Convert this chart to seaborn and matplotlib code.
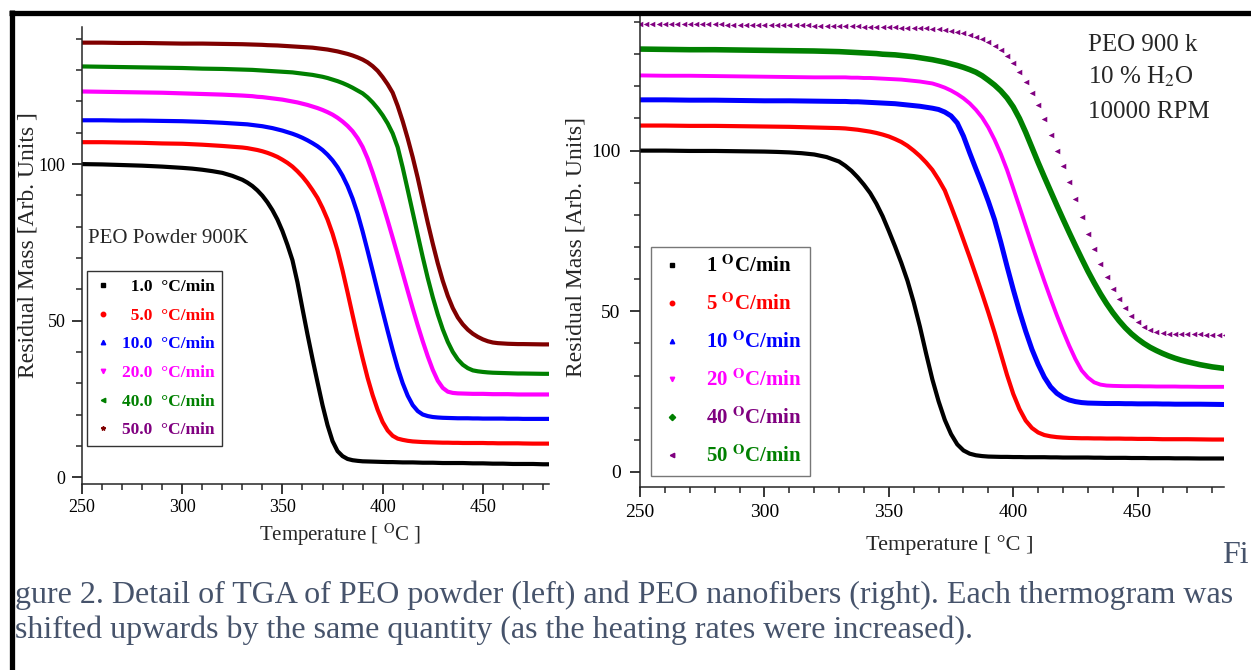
import matplotlib
matplotlib.use("Agg")
import matplotlib.pyplot as plt
from matplotlib.lines import Line2D
from matplotlib.ticker import MultipleLocator
import seaborn as sns

# ---------------------------------------------------------------- data
# temperature grid (°C) for the solid curves
temps = [250, 260, 270, 280, 290, 300, 305, 310, 315, 320, 325,
         330, 332.5, 335, 337.5, 340, 342.5, 345, 347.5,
         350, 352.5, 355, 357.5, 360, 362.5, 365, 367.5,
         370, 372.5, 375, 377.5, 380, 382.5, 385, 387.5,
         390, 392.5, 395, 397.5, 400, 402.5, 405, 407.5,
         410, 412.5, 415, 417.5, 420, 422.5, 425, 427.5,
         430, 432.5, 435, 437.5, 440, 442.5, 445, 447.5,
         450, 452.5, 455, 457.5, 460, 462.5, 465, 467.5,
         470, 475, 480, 485]

# PEO powder 900K, residual mass (each rate shifted upwards)
powder_1 = [100.0, 99.9, 99.7, 99.5, 99.2, 98.8, 98.55, 98.2, 97.75, 97.2, 96.25,
            95.0, 94.1, 93.0, 91.6, 89.9, 87.8, 85.3, 82.3,
            78.6, 74.2, 69.3, 62.2, 53.8, 45.6, 37.8, 30.3,
            23.0, 16.6, 11.5, 8.3, 6.7, 5.8, 5.4, 5.2,
            5.05, 5.0, 4.95, 4.9, 4.85, 4.8, 4.8, 4.75,
            4.7, 4.7, 4.7, 4.65, 4.6, 4.6, 4.6, 4.55,
            4.5, 4.5, 4.5, 4.5, 4.5, 4.45, 4.4, 4.4,
            4.4, 4.35, 4.3, 4.3, 4.3, 4.25, 4.2, 4.2,
            4.2, 4.2, 4.1, 4.1]
powder_5 = [107.0, 107.0, 106.9, 106.8, 106.6, 106.5, 106.35, 106.2, 106.0, 105.8, 105.55,
            105.3, 105.1, 104.8, 104.5, 104.1, 103.6, 103.0, 102.3,
            101.4, 100.4, 99.2, 97.7, 96.0, 94.0, 91.7, 89.2,
            86.0, 82.3, 77.8, 72.4, 66.0, 59.0, 51.8, 44.7,
            38.0, 31.7, 26.2, 21.5, 17.6, 14.9, 13.2, 12.3,
            11.9, 11.6, 11.4, 11.3, 11.2, 11.15, 11.1, 11.05,
            11.0, 11.0, 10.95, 10.95, 10.9, 10.9, 10.9, 10.9,
            10.9, 10.85, 10.85, 10.8, 10.8, 10.8, 10.8, 10.8,
            10.75, 10.7, 10.7, 10.7]
powder_10 = [114.0, 114.0, 113.9, 113.9, 113.8, 113.7, 113.6, 113.5, 113.35, 113.2, 113.0,
             112.8, 112.7, 112.5, 112.3, 112.1, 111.8, 111.5, 111.1,
             110.7, 110.2, 109.7, 109.1, 108.4, 107.6, 106.7, 105.7,
             104.5, 103.0, 101.2, 99.0, 96.3, 93.0, 89.0, 84.2,
             78.5, 72.3, 65.9, 59.4, 53.0, 46.7, 40.6, 34.9,
             30.0, 26.0, 23.0, 21.1, 20.0, 19.5, 19.2, 19.05,
             18.95, 18.9, 18.85, 18.8, 18.8, 18.8, 18.75, 18.75,
             18.7, 18.7, 18.7, 18.7, 18.7, 18.65, 18.65, 18.65,
             18.6, 18.6, 18.6, 18.6]
powder_20 = [123.2, 123.1, 123.0, 122.9, 122.8, 122.6, 122.5, 122.4, 122.3, 122.2, 122.05,
             121.9, 121.8, 121.7, 121.5, 121.4, 121.2, 121.0, 120.8,
             120.6, 120.3, 120.0, 119.7, 119.3, 118.9, 118.4, 117.9,
             117.3, 116.6, 115.8, 114.8, 113.6, 112.2, 110.5, 108.3,
             105.5, 101.8, 97.3, 92.4, 87.3, 82.0, 76.5, 70.9,
             65.2, 59.5, 53.9, 48.5, 43.4, 38.6, 34.3, 30.8,
             28.5, 27.3, 26.9, 26.75, 26.7, 26.65, 26.6, 26.6,
             26.6, 26.55, 26.5, 26.5, 26.5, 26.5, 26.45, 26.4,
             26.4, 26.4, 26.4, 26.4]
powder_40 = [131.2, 131.1, 131.0, 130.9, 130.8, 130.7, 130.6, 130.5, 130.45, 130.4, 130.3,
             130.2, 130.15, 130.1, 130.0, 129.9, 129.8, 129.7, 129.6,
             129.5, 129.4, 129.3, 129.1, 128.9, 128.7, 128.5, 128.2,
             127.9, 127.5, 127.0, 126.5, 125.9, 125.2, 124.4, 123.5,
             122.6, 121.3, 119.7, 117.8, 115.6, 113.0, 109.8, 105.4,
             98.9, 91.8, 84.6, 77.4, 70.3, 63.6, 57.5, 52.0,
             47.2, 43.2, 40.0, 37.6, 35.9, 34.8, 34.1, 33.8,
             33.6, 33.45, 33.35, 33.3, 33.25, 33.2, 33.15, 33.1,
             33.1, 33.05, 33.0, 33.0]
powder_50 = [138.8, 138.8, 138.7, 138.7, 138.6, 138.5, 138.5, 138.5, 138.45, 138.4, 138.35,
             138.3, 138.25, 138.2, 138.15, 138.1, 138.0, 137.95, 137.9,
             137.8, 137.7, 137.6, 137.5, 137.4, 137.3, 137.2, 137.0,
             136.8, 136.6, 136.3, 136.0, 135.6, 135.2, 134.7, 134.1,
             133.4, 132.5, 131.3, 129.8, 127.8, 125.5, 122.8, 118.6,
             113.7, 108.2, 102.2, 95.6, 88.4, 81.3, 74.6, 68.3,
             62.7, 57.9, 54.0, 51.0, 48.8, 47.1, 45.8, 44.8,
             44.0, 43.4, 43.0, 42.8, 42.7, 42.6, 42.55, 42.5,
             42.5, 42.45, 42.4, 42.4]

# PEO nanofibers (900 k, 10 % H2O, 10000 RPM)
fiber_1 = [100.0, 100.0, 99.9, 99.9, 99.8, 99.7, 99.6, 99.45, 99.2, 98.8, 98.0,
           96.6, 95.3, 93.7, 91.7, 89.4, 86.8, 83.5, 79.6,
           75.0, 70.2, 65.1, 59.5, 52.8, 45.2, 36.8, 28.8,
           22.0, 16.2, 11.8, 8.6, 6.7, 5.7, 5.2, 4.95,
           4.8, 4.75, 4.7, 4.7, 4.65, 4.65, 4.6, 4.6,
           4.6, 4.6, 4.55, 4.55, 4.5, 4.5, 4.5, 4.5,
           4.5, 4.45, 4.45, 4.4, 4.4, 4.4, 4.4, 4.35,
           4.35, 4.35, 4.3, 4.3, 4.3, 4.3, 4.25, 4.25,
           4.25, 4.2, 4.2, 4.2]
fiber_5 = [107.8, 107.8, 107.7, 107.7, 107.6, 107.5, 107.45, 107.4, 107.3, 107.2, 107.1,
           107.0, 106.9, 106.7, 106.5, 106.2, 105.9, 105.5, 105.0,
           104.4, 103.6, 102.7, 101.5, 100.0, 98.3, 96.3, 94.0,
           91.0, 87.6, 82.7, 77.6, 72.2, 66.8, 61.2, 55.5,
           49.6, 43.4, 36.8, 30.2, 24.3, 19.6, 16.0, 13.7,
           12.3, 11.5, 11.1, 10.85, 10.7, 10.6, 10.55, 10.5,
           10.5, 10.45, 10.45, 10.4, 10.4, 10.4, 10.35, 10.35,
           10.3, 10.3, 10.3, 10.25, 10.2, 10.2, 10.2, 10.2,
           10.2, 10.15, 10.1, 10.1]
fiber_10 = [115.8, 115.8, 115.7, 115.7, 115.6, 115.5, 115.5, 115.5, 115.45, 115.4, 115.35,
            115.3, 115.3, 115.2, 115.2, 115.1, 115.0, 114.9, 114.8,
            114.7, 114.6, 114.4, 114.2, 114.0, 113.8, 113.5, 113.2,
            112.8, 112.0, 110.8, 108.6, 104.5, 99.3, 94.3, 89.4,
            84.2, 78.5, 71.5, 64.0, 56.8, 50.0, 43.8, 38.2,
            33.5, 29.5, 26.5, 24.5, 23.2, 22.4, 21.9, 21.6,
            21.45, 21.4, 21.35, 21.3, 21.3, 21.3, 21.25, 21.25,
            21.2, 21.2, 21.2, 21.2, 21.15, 21.15, 21.1, 21.1,
            21.1, 21.1, 21.05, 21.0]
fiber_20 = [123.4, 123.3, 123.3, 123.2, 123.1, 123.0, 122.95, 122.9, 122.85, 122.8, 122.8,
            122.8, 122.8, 122.7, 122.7, 122.6, 122.6, 122.5, 122.4,
            122.3, 122.2, 122.1, 121.9, 121.7, 121.5, 121.2, 120.9,
            120.3, 119.6, 118.7, 117.6, 116.3, 114.7, 112.7, 110.3,
            107.2, 103.4, 99.0, 94.0, 88.3, 82.5, 76.6, 70.7,
            65.0, 59.4, 54.0, 48.8, 43.9, 39.3, 35.1, 31.6,
            29.4, 27.9, 27.2, 26.9, 26.8, 26.75, 26.7, 26.7,
            26.7, 26.65, 26.65, 26.6, 26.6, 26.6, 26.6, 26.55,
            26.55, 26.5, 26.5, 26.5]
fiber_40 = [131.6, 131.5, 131.4, 131.4, 131.3, 131.2, 131.15, 131.1, 131.05, 131.0, 130.9,
            130.8, 130.7, 130.6, 130.5, 130.4, 130.3, 130.2, 130.0,
            129.9, 129.8, 129.6, 129.4, 129.2, 128.9, 128.6, 128.3,
            127.9, 127.5, 127.0, 126.5, 125.9, 125.2, 124.4, 123.3,
            121.9, 120.4, 118.6, 116.4, 113.6, 110.0, 105.7, 101.0,
            96.3, 91.8, 87.4, 83.0, 78.7, 74.5, 70.4, 66.4,
            62.5, 58.9, 55.5, 52.4, 49.6, 47.1, 44.9, 43.0,
            41.4, 40.0, 38.8, 37.8, 36.9, 36.1, 35.4, 34.8,
            34.3, 33.4, 32.7, 32.2]

# 50 °C/min nanofiber run, plotted as individual points
temps_pts = [250.0, 252.5, 255.0, 257.5, 260.0, 262.5, 265.0, 267.5, 270.0, 272.5,
             275.0, 277.5, 280.0, 282.5, 285.0, 287.5, 290.0, 292.5, 295.0, 297.5,
             300.0, 302.5, 305.0, 307.5, 310.0, 312.5, 315.0, 317.5, 320.0, 322.5,
             325.0, 327.5, 330.0, 332.5, 335.0, 337.5, 340.0, 342.5, 345.0, 347.5,
             350.0, 352.5, 355.0, 357.5, 360.0, 362.5, 365.0, 367.5, 370.0, 372.5,
             375.0, 377.5, 380.0, 382.5, 385.0, 387.5, 390.0, 392.5, 395.0, 397.5,
             400.0, 402.5, 405.0, 407.5, 410.0, 412.5, 415.0, 417.5, 420.0, 422.5,
             425.0, 427.5, 430.0, 432.5, 435.0, 437.5, 440.0, 442.5, 445.0, 447.5,
             450.0, 452.5, 455.0, 457.5, 460.0, 462.5, 465.0, 467.5, 470.0, 472.5,
             475.0, 477.5, 480.0, 482.5, 485.0]
fiber_50 = [139.4, 139.4, 139.4, 139.4, 139.4, 139.4, 139.4, 139.3, 139.3, 139.3,
            139.3, 139.3, 139.3, 139.3, 139.2, 139.2, 139.2, 139.2, 139.2, 139.2,
            139.1, 139.1, 139.1, 139.1, 139.0, 139.0, 139.0, 139.0, 138.9, 138.9,
            138.9, 138.8, 138.8, 138.8, 138.7, 138.7, 138.6, 138.6, 138.5, 138.5,
            138.4, 138.4, 138.3, 138.2, 138.2, 138.1, 138.0, 137.9, 137.7, 137.5,
            137.2, 136.9, 136.5, 136.0, 135.4, 134.6, 133.7, 132.6, 131.3, 129.4,
            127.2, 124.6, 121.5, 118.0, 114.1, 109.8, 105.0, 100.0, 95.2, 90.2,
            84.9, 79.5, 74.2, 69.3, 64.8, 60.7, 57.0, 53.8, 51.0, 48.6,
            46.6, 45.1, 44.1, 43.5, 43.2, 43.0, 42.9, 42.9, 42.8, 42.8,
            42.8, 42.7, 42.7, 42.7, 42.6]

powder_rates = ["1.0", "5.0", "10.0", "20.0", "40.0", "50.0"]
fiber_rates = ["1", "5", "10", "20", "40", "50"]

BLACK, RED, BLUE, MAGENTA, GREEN, MAROON, PURPLE = (
    "#000000", "#ff0000", "#0000ff", "#ff00ff", "#008000", "#800000", "#800080")
CAPTION = "#46536b"

# ---------------------------------------------------------------- style
sns.set_style("ticks")
plt.rcParams["font.family"] = ["Liberation Serif", "DejaVu Serif"]
plt.rcParams["mathtext.fontset"] = "stix"
plt.rcParams["axes.linewidth"] = 1.1

W, H = 1251, 670
fig = plt.figure(figsize=(W / 100, H / 100), dpi=100)
fig.patch.set_facecolor("white")


def px_axes(x0, y0, x1, y1):
    return fig.add_axes([x0 / W, 1 - y1 / H, (x1 - x0) / W, (y1 - y0) / H])


def style_axes(ax, xlim, ylim, size, pad_x, pad_y):
    ax.set_xlim(*xlim)
    ax.set_ylim(*ylim)
    sns.despine(ax=ax)
    ax.xaxis.set_major_locator(MultipleLocator(50))
    ax.xaxis.set_minor_locator(MultipleLocator(10))
    ax.yaxis.set_major_locator(MultipleLocator(50))
    ax.yaxis.set_minor_locator(MultipleLocator(10))
    ax.tick_params(which="major", direction="out", length=7, width=1.1,
                   labelsize=size, colors="black")
    ax.tick_params(axis="x", which="major", pad=pad_x)
    ax.tick_params(axis="y", which="major", pad=pad_y)
    ax.tick_params(which="minor", direction="out", length=4, width=1.1)
    ax.set_facecolor("white")


def draw_curve(ax, vals, col, lw):
    sns.lineplot(x=temps, y=vals, ax=ax, color=col, linewidth=lw,
                 estimator=None, sort=False, legend=False,
                 solid_joinstyle="round", solid_capstyle="butt")


# ---------------------------------------------------------------- left panel
axL = px_axes(82, 27, 549, 484)
powder = [powder_1, powder_5, powder_10, powder_20, powder_40, powder_50]
powder_cols = [BLACK, RED, BLUE, MAGENTA, GREEN, MAROON]
for vals, col in zip(powder, powder_cols):
    draw_curve(axL, vals, col, 3.0)
style_axes(axL, (250, 483), (-2.2, 143.8), 13, 4, 5)
axL.set_xlabel(r"Temperature [ $^{\mathrm{O}}$C ]", fontsize=15)
axL.set_ylabel("Residual Mass [Arb. Units ]", fontsize=17)
axL.xaxis.set_label_coords(0.552, -0.083)
axL.yaxis.set_label_coords(-0.093, 0.523)
axL.text(0.013, 0.538, "PEO Powder 900K", transform=axL.transAxes,
         fontsize=15, va="center", ha="left")

markers_L = ["s", "o", "^", "v", "<", "*"]
text_cols_L = [BLACK, RED, BLUE, MAGENTA, GREEN, PURPLE]
handles_L = [Line2D([], [], linestyle="none", marker=m, color=c, markersize=3.2)
             for m, c in zip(markers_L, powder_cols)]
labels_L = [("\u2007" if len(r) < 4 else "") + r + "  \u00b0C/min" for r in powder_rates]
legL = axL.legend(handles_L, labels_L, loc="upper left",
                  bbox_to_anchor=(0.0107, 0.466), borderaxespad=0,
                  prop={"family": ["Liberation Serif", "DejaVu Serif"],
                        "weight": "bold", "size": 12.5},
                  frameon=True, fancybox=False, edgecolor="black",
                  handlelength=1.0, handletextpad=0.55, labelspacing=0.72,
                  borderpad=0.45)
legL.get_frame().set_linewidth(1.0)
for t, c in zip(legL.get_texts(), text_cols_L):
    t.set_color(c)

# ---------------------------------------------------------------- right panel
axR = px_axes(640, 15, 1224, 487)
fiber = [fiber_1, fiber_5, fiber_10, fiber_20, fiber_40]
fiber_cols = [BLACK, RED, BLUE, MAGENTA, GREEN]
fiber_lw = [3.0, 3.0, 3.6, 2.8, 4.0]
for vals, col, lw in zip(fiber, fiber_cols, fiber_lw):
    draw_curve(axR, vals, col, lw)
sns.scatterplot(x=temps_pts, y=fiber_50, ax=axR, marker="<", s=16,
                color=PURPLE, linewidth=0, legend=False)
style_axes(axR, (250, 484.7), (-4.67, 142.2), 14, 5, 7)
axR.set_xlabel("Temperature [ \u00b0C ]", fontsize=16)
axR.set_ylabel("Residual Mass [Arb. Units]", fontsize=17)
axR.xaxis.set_label_coords(0.531, -0.102)
axR.yaxis.set_label_coords(-0.091, 0.508)
for i, line in enumerate(["PEO 900 k", r"10 % H$_2$O", "10000 RPM"]):
    axR.text(0.767, [0.936, 0.869, 0.794][i], line, transform=axR.transAxes,
             fontsize=18, va="center", ha="left")

markers_R = ["s", "o", "^", "v", "D", "<"]
marker_cols_R = [BLACK, RED, BLUE, MAGENTA, GREEN, PURPLE]
text_cols_R = [BLACK, RED, BLUE, MAGENTA, PURPLE, GREEN]
handles_R = [Line2D([], [], linestyle="none", marker=m, color=c, markersize=3.2)
             for m, c in zip(markers_R, marker_cols_R)]
labels_R = [r + r" $^{\mathbf{O}}$C/min" for r in fiber_rates]
legR = axR.legend(handles_R, labels_R, loc="upper left",
                  bbox_to_anchor=(0.0188, 0.5085), borderaxespad=0,
                  prop={"family": ["Liberation Serif", "DejaVu Serif"],
                        "weight": "bold", "size": 15},
                  frameon=True, fancybox=False, edgecolor="#555555",
                  handlelength=1.2, handletextpad=1.0, labelspacing=0.795,
                  borderpad=0.42)
legR.get_frame().set_linewidth(1.0)
for t, c in zip(legR.get_texts(), text_cols_R):
    t.set_color(c)

# ---------------------------------------------------------------- page frame and caption
fig.add_artist(Line2D([9 / W, 1.0], [1 - 12.5 / H, 1 - 12.5 / H],
                      color="black", linewidth=3.8, solid_capstyle="butt"))
fig.add_artist(Line2D([11.5 / W, 11.5 / W], [1 - 10 / H, 0.0],
                      color="black", linewidth=3.8, solid_capstyle="butt"))
fig.text(1222 / W, 1 - 563 / H, "Fi", fontsize=23, color=CAPTION,
         ha="left", va="baseline")
fig.text(15 / W, 1 - 603 / H,
         "gure 2. Detail of TGA of PEO powder (left) and PEO nanofibers (right). "
         "Each thermogram was", fontsize=23, color=CAPTION, ha="left", va="baseline")
fig.text(15 / W, 1 - 638 / H,
         "shifted upwards by the same quantity (as the heating rates were increased).",
         fontsize=23, color=CAPTION, ha="left", va="baseline")

fig.savefig("out.png", dpi=100, facecolor="white")
